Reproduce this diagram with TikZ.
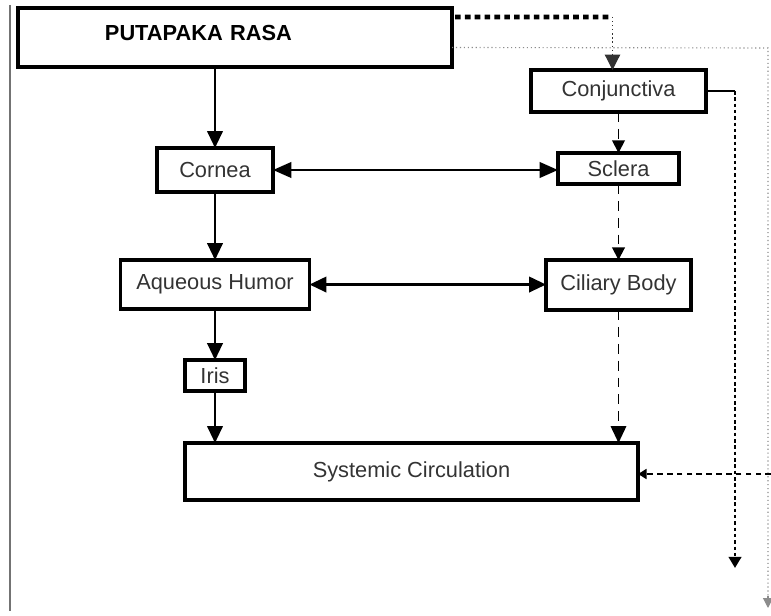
\documentclass[tikz,border=0pt]{standalone}
\usepackage{fontspec}
\setmainfont{Liberation Sans}
\usepackage{xcolor}
\usepackage{tikz}
\usetikzlibrary{arrows.meta,positioning,calc}

\begin{document}
\begin{tikzpicture}[x=0.025cm, y=-0.025cm,
    box/.style={rectangle, draw, line width=2.4pt, inner sep=0pt, outer sep=0pt, text=black!80,
        font=\fontsize{15.5}{18}\selectfont},
    arrow/.style={-{Triangle[length=12pt,width=11pt]}, line width=1.6pt},
    darrow/.style={arrow, line width=1.3pt, dash pattern=on 7pt off 5pt},
    faint/.style={black!45, line width=0.8pt, dotted}]

    \useasboundingbox (0,0) rectangle (771,616);
    % frame lines
    \draw[black!55, line width=0.8pt] (10,5) -- (10,611);

    \node[box, minimum width=10.85cm, minimum height=1.475cm, text width=6.5cm,
        align=left, inner xsep=2.175cm, text=black, font=\fontsize{15.5}{18}\selectfont\bfseries]
        (rasa) at (235,37.5) {\raisebox{7pt}{PUTAPAKA RASA}};
    \node[box, minimum width=4.375cm, minimum height=1.05cm] (conj) at (618.5,91) {Conjunctiva};
    \node[box, minimum width=3.025cm, minimum height=0.775cm, below=1.025cm of conj] (sclera) {Sclera};
    \node[box, minimum width=3.625cm, minimum height=1.25cm, line width=2.7pt, below=1.9cm of sclera] (ciliary) {Ciliary Body};
    \node[box, minimum width=2.9cm, minimum height=1.1cm] (cornea) at (215,170) {Cornea};
    \node[box, minimum width=4.725cm, minimum height=1.225cm, below=1.7cm of cornea] (aqueous) {Aqueous Humor};
    \node[box, minimum width=1.5cm, minimum height=0.775cm, below=1.275cm of aqueous] (iris) {Iris};
    \node[box, minimum width=11.325cm, minimum height=1.425cm] (sys) at (411.5,471.5) {Systemic Circulation};

    % putapaka rasa to conjunctiva
    \coordinate (corner) at ($(conj.north)+(-6,0)$);
    \draw[line width=3.5pt, dash pattern=on 4pt off 3pt] ($(rasa.north east)+(3,9)$) -- (corner |- 0,17);
    \draw[black!80, line width=0.9pt, dotted, -{Triangle[length=11pt,width=11pt]}] (corner |- 0,17) -- (corner);
    \draw[faint] ($(rasa.east)+(0,10)$) -- (768,48) -- (768,596);
    \draw[black!45, line width=0.8pt, -{Triangle[length=7pt,width=7pt]}] (768,596) -- (768,608);

    % left column
    \draw[arrow] (rasa.south -| cornea.north) -- (cornea.north);
    \draw[arrow] (cornea) -- (aqueous);
    \draw[arrow] (aqueous) -- (iris);
    \draw[arrow] (iris.south) -- (iris.south |- sys.north);

    % right column
    \draw[darrow, -{Triangle[length=9pt,width=9pt]}] (conj) -- (sclera);
    \draw[darrow, -{Triangle[length=9pt,width=9pt]}] (sclera) -- (ciliary);
    \draw[darrow] (ciliary.south) -- (ciliary.south |- sys.north);

    % across
    \draw[arrow, {Triangle[length=13pt,width=11pt]}-{Triangle[length=13pt,width=11pt]}] (cornea) -- (cornea -| sclera.west);
    \draw[arrow, {Triangle[length=12pt,width=11pt]}-{Triangle[length=12pt,width=11pt]}] (aqueous) -- (aqueous -| ciliary.west);

    % conjunctiva side branch
    \coordinate (side) at (735,91);
    \draw[line width=1.6pt] (conj.east) -- (side);
    \draw[line width=1.8pt, dash pattern=on 2.5pt off 2pt, -{Triangle[length=8pt,width=9pt]}] (side) -- (735,568);
    \draw[line width=1.5pt, dash pattern=on 4pt off 3pt, -{Triangle[length=6pt,width=7pt]}] (771,474) -- (sys.east |- 0,474);
\end{tikzpicture}
\end{document}
